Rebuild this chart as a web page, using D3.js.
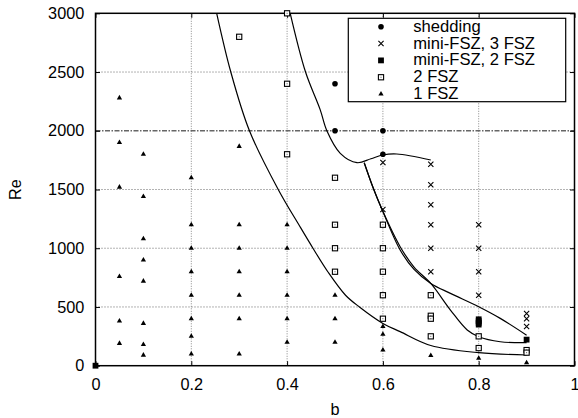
<!DOCTYPE html>
<html>
<head>
<meta charset="utf-8">
<script src="https://cdn.jsdelivr.net/npm/d3@7"></script>
<style>
  body { margin: 0; background: #fff; }
  text { font-family: "Liberation Sans", Arial, Helvetica, sans-serif; fill: #000; }
</style>
</head>
<body>
<div id="chart"></div>
<script>
// ---- data (b, Re) ----
var xTicks = [0, 0.2, 0.4, 0.6, 0.8, 1];
var xTickLabels = ['0', '0.2', '0.4', '0.6', '0.8', '1'];
var yTicks = [0, 500, 1000, 1500, 2000, 2500, 3000];
var criticalRe = 2000;

var legendLabels = ['shedding', 'mini-FSZ, 3 FSZ', 'mini-FSZ, 2 FSZ', '2 FSZ', '1 FSZ'];

var shedding = [[0.5, 2400], [0.5, 2000], [0.6, 2000], [0.6, 1800]];

var miniFsz3 = [
  [0.6, 1730], [0.6, 1330],
  [0.7, 1715], [0.7, 1540], [0.7, 1370], [0.7, 1200], [0.7, 1000], [0.7, 800],
  [0.8, 1200], [0.8, 1000], [0.8, 800], [0.8, 600],
  [0.9, 444], [0.9, 400], [0.9, 333]
];

var miniFsz2 = [[0, 0], [0.8, 350], [0.8, 365], [0.8, 380], [0.8, 395], [0.9, 222]];

var fsz2 = [
  [0.3, 2800], [0.4, 3000], [0.4, 2400], [0.4, 1800],
  [0.5, 1600], [0.5, 1200], [0.5, 1000], [0.5, 800],
  [0.6, 1200], [0.6, 1000], [0.6, 800], [0.6, 600], [0.6, 400],
  [0.7, 600], [0.7, 425], [0.7, 400], [0.7, 250],
  [0.8, 250], [0.8, 150], [0.9, 133], [0.9, 111]
];

var fsz1 = [
  [0.05, 190], [0.05, 380], [0.05, 760], [0.05, 1520], [0.05, 1900], [0.05, 2280],
  [0.1, 90], [0.1, 180], [0.1, 360], [0.1, 720], [0.1, 900], [0.1, 1080], [0.1, 1440], [0.1, 1800],
  [0.2, 100], [0.2, 250], [0.2, 400], [0.2, 600], [0.2, 800], [0.2, 1000], [0.2, 1200], [0.2, 1600],
  [0.3, 100], [0.3, 400], [0.3, 600], [0.3, 800], [0.3, 1000], [0.3, 1200], [0.3, 1867],
  [0.4, 200], [0.4, 400], [0.4, 600], [0.4, 800], [0.4, 1000], [0.4, 1200],
  [0.5, 200], [0.5, 400], [0.5, 600],
  [0.6, 133], [0.6, 267], [0.6, 333],
  [0.7, 86], [0.8, 63], [0.9, 25]
];

// boundary curves, traced
var lowerCurve = [[0.253, 3000], [0.2825, 2500], [0.3214, 2000], [0.382, 1496], [0.427, 1183],
  [0.454, 1000], [0.485, 800], [0.522, 600], [0.551, 500], [0.6, 360], [0.636, 290],
  [0.7, 172], [0.8, 111], [0.9, 91]];
var sheddingCurve = [[0.4065, 3000], [0.4385, 2500], [0.469, 2180], [0.483, 2000], [0.511, 1808],
  [0.546, 1728], [0.575, 1762], [0.6, 1794], [0.629, 1802], [0.7, 1751]];
var branchA = [[0.561, 1728], [0.58, 1510], [0.598, 1331], [0.636, 985], [0.665, 820], [0.7, 700],
  [0.741, 616], [0.8, 502], [0.845, 403], [0.9, 260]];
var branchB = [[0.561, 1728], [0.58, 1510], [0.598, 1331], [0.636, 1013], [0.665, 840], [0.7, 700],
  [0.741, 474], [0.776, 304], [0.8, 247], [0.845, 204], [0.9, 196]];

// ---- layout ----
var W = 578, H = 418;
var margin = {top: 13.3, right: 3.5, bottom: 52.3, left: 95.5};
var width = W - margin.left - margin.right;
var height = H - margin.top - margin.bottom;

var svg = d3.select('#chart').append('svg')
  .attr('width', W).attr('height', H);

var g = svg.append('g').attr('transform', 'translate(' + margin.left + ',' + margin.top + ')');

var x = d3.scaleLinear().domain([0, 1]).range([0, width]);
var y = d3.scaleLinear().domain([0, 3000]).range([height, 0]);

svg.append('defs').append('clipPath').attr('id', 'plotclip')
  .append('rect').attr('width', width).attr('height', height);

// grid
var grid = g.append('g');
grid.selectAll('line.gx')
  .data(xTicks.filter(function(d) { return d > 0 && d < 1; }))
  .join('line')
  .attr('x1', function(d) { return x(d); }).attr('x2', function(d) { return x(d); })
  .attr('y1', 0).attr('y2', height)
  .attr('stroke', '#888').attr('stroke-width', 1).attr('stroke-dasharray', '1,1.5');
grid.selectAll('line.gy')
  .data(yTicks.filter(function(d) { return d > 0 && d < 3000 && d !== criticalRe; }))
  .join('line')
  .attr('x1', 0).attr('x2', width)
  .attr('y1', function(d) { return y(d); }).attr('y2', function(d) { return y(d); })
  .attr('stroke', '#666').attr('stroke-width', 1).attr('stroke-dasharray', '1,2');

// Re = 2000 dash-dot line
g.append('line')
  .attr('x1', 0).attr('x2', width)
  .attr('y1', y(criticalRe)).attr('y2', y(criticalRe))
  .attr('stroke', '#666').attr('stroke-width', 1.3).attr('stroke-dasharray', '5,1.5,1.5,1.5');

// axes (ticks inside, mirrored)
var tk = -4.5;
g.append('g').attr('transform', 'translate(0,' + height + ')')
  .call(d3.axisBottom(x).tickValues(xTicks).tickFormat(function(d, i) { return xTickLabels[i]; })
    .tickSizeInner(tk).tickSizeOuter(0).tickPadding(12.4));
g.append('g')
  .call(d3.axisTop(x).tickValues(xTicks).tickFormat('').tickSizeInner(tk).tickSizeOuter(0));
g.append('g')
  .call(d3.axisLeft(y).tickValues(yTicks).tickFormat(d3.format('d'))
    .tickSizeInner(tk).tickSizeOuter(0).tickPadding(11.2));
g.append('g').attr('transform', 'translate(' + width + ',0)')
  .call(d3.axisRight(y).tickValues(yTicks).tickFormat('').tickSizeInner(tk).tickSizeOuter(0));

g.selectAll('.domain').remove();
g.selectAll('.tick line').attr('stroke', '#000');
g.selectAll('.tick text').attr('font-size', 16.3).attr('font-family', null);

// curves
var line = d3.line()
  .x(function(d) { return x(d[0]); })
  .y(function(d) { return y(d[1]); })
  .curve(d3.curveCatmullRom.alpha(0.5));

g.append('g').attr('clip-path', 'url(#plotclip)')
  .selectAll('path')
  .data([lowerCurve, sheddingCurve, branchA, branchB])
  .join('path')
  .attr('d', line)
  .attr('fill', 'none').attr('stroke', '#000').attr('stroke-width', 1.2);

// frame
g.append('rect').attr('width', width).attr('height', height)
  .attr('fill', 'none').attr('stroke', '#000').attr('stroke-width', 1.5);

// ---- markers ----
function drawCircles(sel) {
  sel.append('circle').attr('r', 2.8).attr('fill', '#000');
}
function drawCrosses(sel) {
  var s = 2.6;
  sel.append('path')
    .attr('d', 'M' + (-s) + ',' + (-s) + 'L' + s + ',' + s + 'M' + (-s) + ',' + s + 'L' + s + ',' + (-s))
    .attr('stroke', '#000').attr('stroke-width', 1.1).attr('fill', 'none');
}
function drawFilledSquares(sel) {
  sel.append('rect').attr('x', -2.9).attr('y', -2.9).attr('width', 5.8).attr('height', 5.8).attr('fill', '#000');
}
function drawOpenSquares(sel) {
  sel.append('rect').attr('x', -2.6).attr('y', -2.6).attr('width', 5.2).attr('height', 5.2)
    .attr('fill', '#fff').attr('stroke', '#000').attr('stroke-width', 1.1);
  sel.append('rect').attr('x', -0.5).attr('y', -0.5).attr('width', 1).attr('height', 1).attr('fill', '#555');
}
var tri = d3.symbol(d3.symbolTriangle, 12);
function drawTriangles(sel) {
  sel.append('path').attr('d', tri).attr('fill', '#000');
}

var seriesList = [
  {pts: fsz1, draw: drawTriangles},
  {pts: fsz2, draw: drawOpenSquares},
  {pts: miniFsz3, draw: drawCrosses},
  {pts: miniFsz2, draw: drawFilledSquares},
  {pts: shedding, draw: drawCircles}
];

seriesList.forEach(function(s) {
  g.append('g').selectAll('g')
    .data(s.pts)
    .join('g')
    .attr('transform', function(d) { return 'translate(' + x(d[0]) + ',' + y(d[1]) + ')'; })
    .call(s.draw);
});

// ---- legend ----
var legend = svg.append('g');
legend.append('rect')
  .attr('x', 348.3).attr('y', 18.3).attr('width', 217.4).attr('height', 83.4)
  .attr('fill', '#fff').attr('stroke', '#000').attr('stroke-width', 1.2);

var legendDraw = [drawCircles, drawCrosses, drawFilledSquares, drawOpenSquares, drawTriangles];
var legendRows = legend.selectAll('g.row')
  .data(legendLabels)
  .join('g')
  .attr('transform', function(d, i) { return 'translate(0,' + (26.7 + i * 16.85) + ')'; });

legendRows.each(function(d, i) {
  var row = d3.select(this);
  row.append('g').attr('transform', 'translate(381,0)').call(legendDraw[i]);
  row.append('text').attr('x', 413.3).attr('y', 5).attr('font-size', 16.6).text(d);
});

// ---- axis titles ----
svg.append('text')
  .attr('x', margin.left + width / 2).attr('y', 415)
  .attr('text-anchor', 'middle').attr('font-size', 16.3).text('b');
svg.append('text')
  .attr('transform', 'translate(21,' + (margin.top + height / 2) + ') rotate(-90)')
  .attr('text-anchor', 'middle').attr('font-size', 16.3).text('Re');
</script>
</body>
</html>
